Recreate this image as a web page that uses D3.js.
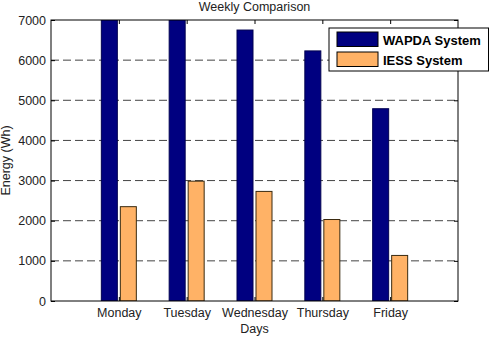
<!DOCTYPE html>
<html><head><meta charset="utf-8">
<script src="https://cdn.jsdelivr.net/npm/d3@7"></script>
<style>body{margin:0;background:#fff}svg{display:block}text{font-family:"Liberation Sans",Arial,sans-serif}</style>
</head><body>
<svg id="c" width="490" height="338"></svg>
<script>
const days = ["Monday","Tuesday","Wednesday","Thursday","Friday"];
const wapda = [7400, 7300, 6750, 6230, 4790];
const iess = [2350, 2985, 2730, 2030, 1135];
const seriesNames = ["WAPDA System","IESS System"];
const seriesColors = ["#000080","#FFB266"];
const yTicks = [0,1000,2000,3000,4000,5000,6000,7000];

const svg = d3.select("#c");
const L=51, R=458, T=20, B=301;
const x = d3.scaleLinear().domain([0,6]).range([L,R]);
const y = d3.scaleLinear().domain([0,7000]).range([B,T]);
const FS = 12.5;

// grid
svg.append("g").selectAll("line").data(yTicks.filter(d=>d>0&&d<7000)).join("line")
  .attr("x1",L).attr("x2",R).attr("y1",d=>y(d)).attr("y2",d=>y(d))
  .attr("stroke","#444").attr("stroke-width",1).attr("stroke-dasharray","8,4");

svg.append("clipPath").attr("id","pc").append("rect")
  .attr("x",L).attr("y",T).attr("width",R-L).attr("height",B-T);

const bw = 16, off = 9.5;
const g = svg.append("g").attr("clip-path","url(#pc)");
[wapda,iess].forEach((vals,si)=>{
  g.selectAll(null).data(vals).join("rect")
    .attr("x",(d,i)=>x(i+1)+(si===0?-off:off)-bw/2)
    .attr("y",d=>y(d)).attr("width",bw).attr("height",d=>y(0)-y(d))
    .attr("fill",seriesColors[si]).attr("stroke",si===0?"#000050":"#3a2a10").attr("stroke-width",1);
});

// frame
svg.append("rect").attr("x",L).attr("y",T).attr("width",R-L).attr("height",B-T)
  .attr("fill","none").attr("stroke","#000").attr("stroke-width",1);

// axes
const ya = svg.append("g").attr("transform",`translate(${L},0)`)
  .call(d3.axisLeft(y).tickValues(yTicks).tickSize(-4).tickPadding(5).tickFormat(d3.format("d")));
ya.select(".domain").remove();
ya.selectAll("text").attr("font-size",FS).attr("fill","#222").attr("font-family","Liberation Sans, Arial, sans-serif");
ya.selectAll("line").attr("stroke","#000");
const yr = svg.append("g").attr("transform",`translate(${R},0)`)
  .call(d3.axisRight(y).tickValues(yTicks).tickSize(-4).tickFormat(""));
yr.select(".domain").remove();
yr.selectAll("line").attr("stroke","#000");

const xa = svg.append("g").attr("transform",`translate(0,${B})`)
  .call(d3.axisBottom(x).tickValues([1,2,3,4,5]).tickSize(-4).tickPadding(7).tickFormat(d=>days[d-1]));
xa.select(".domain").remove();
xa.selectAll("text").attr("font-size",FS).attr("fill","#222").attr("font-family","Liberation Sans, Arial, sans-serif");
xa.selectAll("line").attr("stroke","#000");
const xt = svg.append("g").attr("transform",`translate(0,${T})`)
  .call(d3.axisTop(x).tickValues([1,2,3,4,5]).tickSize(-4).tickFormat(""));
xt.select(".domain").remove();
xt.selectAll("line").attr("stroke","#000");

// titles
svg.append("text").attr("x",(L+R)/2).attr("y",11).attr("text-anchor","middle")
  .attr("font-size",FS).attr("fill","#222").text("Weekly Comparison");
svg.append("text").attr("x",(L+R)/2).attr("y",333).attr("text-anchor","middle")
  .attr("font-size",FS).attr("fill","#222").text("Days");
svg.append("text").attr("transform",`translate(10,${(T+B)/2}) rotate(-90)`).attr("text-anchor","middle")
  .attr("font-size",FS).attr("fill","#222").text("Energy (Wh)");

// legend
const lg = svg.append("g");
lg.append("rect").attr("x",329).attr("y",28).attr("width",159.5).attr("height",43)
  .attr("fill","#fff").attr("stroke","#000").attr("stroke-width",1);
seriesNames.forEach((n,i)=>{
  lg.append("rect").attr("x",337).attr("y",32+i*20).attr("width",41).attr("height",14.5)
    .attr("fill",seriesColors[i]).attr("stroke","#000").attr("stroke-width",1);
  lg.append("text").attr("x",383).attr("y",44.5+i*20).attr("font-size",13).attr("font-weight","bold")
    .attr("fill","#000").text(n);
});
</script>
</body></html>
